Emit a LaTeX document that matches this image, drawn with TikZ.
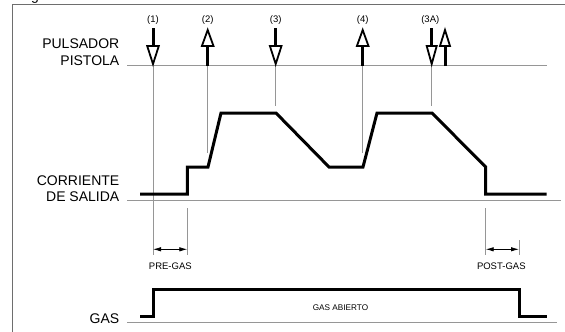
\documentclass[tikz,border=0pt]{standalone}
\usepackage{fontspec}
\setmainfont{Liberation Sans}
\usetikzlibrary{arrows.meta, calc}
\definecolor{guide}{RGB}{150,150,150}
\definecolor{framegray}{RGB}{110,110,110}

% trigger press: hollow head pointing down onto #2
\newcommand{\btndown}[2][5.8]{%
  \draw[btnshaft] (#2) ++(0,-36) -- ++(0,18);
  \draw[btnhead] (#2) ++(-#1,-18) -- ++(2*#1,0) -- (#2) -- cycle;}
% trigger release: shaft up from #2, hollow head pointing up
\newcommand{\btnup}[2][5.8]{%
  \draw[btnshaft] (#2) ++(0,2) -- ++(0,-20);
  \draw[btnhead] (#2) ++(-#1,-18) -- ++(2*#1,0) -- ++(-#1,-16) -- cycle;}

\begin{document}
\begin{tikzpicture}[
  x=1pt, y=-1pt,
  btnshaft/.style={line width=3pt},
  btnhead/.style={draw, line width=1.8pt, fill=white, line join=miter},
  axisline/.style={draw=guide, line width=1pt},
  guideline/.style={draw=guide, line width=0.9pt},
  signal/.style={line width=3pt, line join=miter},
  biglbl/.style={font=\fontsize{14}{16}\selectfont, inner sep=0pt, anchor=base east},
  marklbl/.style={font=\fontsize{9.5}{11}\selectfont, inner sep=0pt, anchor=base},
  dimline/.style={{Latex[length=8pt,width=4.5pt]}-{Latex[length=8pt,width=4.5pt]}, line width=0.8pt},
]
  \useasboundingbox (0,0) rectangle (565,332);

  % frame (cut off at the page edge)
  \draw[framegray, line width=1pt] (565,4) -- (12,4) -- (12,332);
  \node[font=\fontsize{14}{16}\selectfont, inner sep=0pt, anchor=base] (figlbl) at (35,0.5) {g};

  % row labels
  \node[biglbl] (pulsador) at (119.5,48.5) {PULSADOR};
  \node[biglbl] (pistola) at (119.5,65.5) {PISTOLA};
  \node[biglbl] (corriente) at (119.5,185) {CORRIENTE};
  \node[biglbl] (salida) at (119.5,201) {DE SALIDA};
  \node[biglbl] (gas) at (119.5,323) {GAS};

  % row axes
  \draw[axisline] (127,65) -- (547,65);
  \draw[axisline] (127,200) -- (561,200);
  \draw[axisline] (127,322) -- (557,322);

  % trigger events
  \coordinate (e1) at (153,64);
  \coordinate (e2) at (207.7,64);
  \coordinate (e3) at (275.7,64);
  \coordinate (e4) at (362.7,64);
  \coordinate (e3a) at (431.7,64);
  \coordinate (e3b) at (445,64);

  \node[marklbl] (m1) at (153,22) {(1)};
  \node[marklbl] (m2) at (207.7,22) {(2)};
  \node[marklbl] (m3) at (275.7,22) {(3)};
  \node[marklbl] (m4) at (362.7,22) {(4)};
  \node[marklbl] (m3a) at (430.3,22) {(3A)};

  % guide lines down from the events
  \draw[guideline] (e1) -- ++(0,191);
  \draw[guideline] (e2) -- ++(0,89);
  \draw[guideline] (e3) -- ++(0,42);
  \draw[guideline] (e4) -- ++(0,89);
  \draw[guideline] (e3a) -- ++(0,42);
  \draw[guideline] (187.3,208) -- (187.3,255);
  \draw[guideline] (485.7,208) -- (485.7,255);
  \draw[guideline] (519,240) -- (519,255);

  \btndown{e1}
  \btnup{e2}
  \btndown{e3}
  \btnup{e4}
  \btndown[5]{e3a}
  \btnup[5]{e3b}

  % output current
  \draw[signal] (140,194) -- (187.3,194) -- (187.3,167) -- (208,167) -- (221,113)
    -- (276,113) -- (329,167) -- (363,167) -- (377,113) -- (432,113)
    -- (485.7,167) -- (485.7,194) -- (546.7,194);

  % pre-gas / post-gas
  \coordinate (pre1) at (153,249.3);
  \coordinate (pre2) at (187.3,249.3);
  \coordinate (post1) at (485.7,249.3);
  \coordinate (post2) at (519,249.3);
  \draw[dimline] (pre1) -- (pre2);
  \draw[dimline] (post1) -- (post2);
  \node[marklbl] (pregas) at (170.3,269) {PRE-GAS};
  \node[marklbl] (postgas) at (501.3,269) {POST-GAS};

  % gas valve
  \draw[signal] (140,316) -- (153.3,316) -- (153.3,289) -- (519,289) -- (519,316) -- (546.7,316);
  \node[marklbl, font=\fontsize{8.2}{10}\selectfont] (abierto) at (340.5,310) {GAS ABIERTO};
\end{tikzpicture}
\end{document}
